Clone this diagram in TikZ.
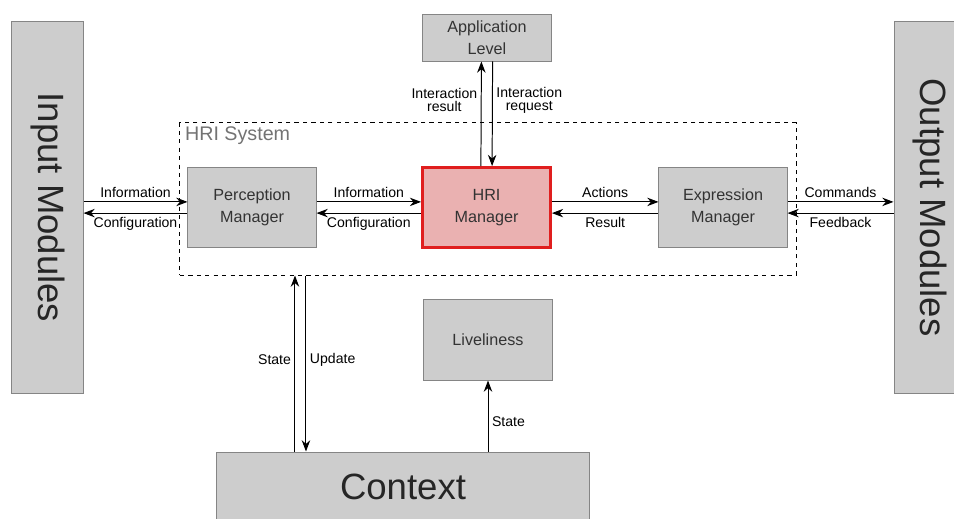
\documentclass[tikz,border=0pt]{standalone}
\usepackage{fontspec}
\setmainfont{Liberation Sans}
\usetikzlibrary{positioning,arrows.meta}
\definecolor{boxgray}{HTML}{CDCDCD}
\definecolor{edgegray}{HTML}{858585}
\definecolor{textgray}{HTML}{333333}
\definecolor{hripink}{HTML}{EAB1B1}
\definecolor{hrired}{HTML}{E01E1E}

\begin{document}
\begin{tikzpicture}[x=0.025cm, y=-0.025cm, >={Stealth[length=8pt,width=6pt]}, line width=0.7pt,
  box/.style={draw=edgegray, fill=boxgray, text=textgray, align=center,
    font=\fontsize{11.5}{16}\selectfont, inner sep=0pt},
  bigbox/.style={box, text=black!85, font=\fontsize{26}{30}\selectfont},
  lbl/.style={font=\fontsize{10}{9.5}\selectfont, align=center, inner sep=2.5pt}]
  \clip (0,0) rectangle (954,519);
  % outer modules
  \node[bigbox, minimum width=1.775cm, minimum height=9.275cm] (inp) at (47.5,207.5)
    {\rotatebox{-90}{Input Modules}};
  \node[bigbox, minimum width=1.775cm, minimum height=9.275cm] (outp) at (929.5,207.5)
    {\rotatebox{-90}{Output Modules}};
  % hri system
  \node[draw, dashed, minimum width=15.4cm, minimum height=3.8cm] (sys) at (488,199) {};
  \node[anchor=north west, inner sep=0pt, text=black!55, font=\fontsize{14}{16}\selectfont]
    at ([shift={(0.13cm,-0.1cm)}]sys.north west) {HRI System};
  \node[box, minimum width=3.2cm, minimum height=1.975cm] (perc) at (252,207.5)
    {Perception\\Manager};
  \node[box, draw=hrired, fill=hripink, line width=2pt, minimum width=3.2cm, minimum height=2cm]
    (hri) at (486.5,207.5) {HRI\\Manager};
  \node[box, minimum width=3.2cm, minimum height=1.975cm] (expr) at (723,207.5)
    {Expression\\Manager};
  % other blocks
  \node[box, minimum width=3.2cm, minimum height=1.175cm] (app) at (487,37.5)
    {Application\\Level};
  \node[box, minimum width=3.2cm, minimum height=2cm] (live) at (488,340) {Liveliness};
  \node[bigbox, minimum width=9.3cm, minimum height=1.75cm] (ctx) at (403,487) {Context};

  % horizontal flows
  \draw[->] ([yshift=0.14cm]inp.east) -- node[lbl, above] {Information} ([yshift=0.14cm]perc.west);
  \draw[<-] ([yshift=-0.14cm]inp.east) -- node[lbl, below] {Configuration} ([yshift=-0.14cm]perc.west);
  \draw[->] ([yshift=0.14cm]perc.east) -- node[lbl, above] {Information} ([yshift=0.14cm]hri.west);
  \draw[<-] ([yshift=-0.14cm]perc.east) -- node[lbl, below] {Configuration} ([yshift=-0.14cm]hri.west);
  \draw[->] ([yshift=0.14cm]hri.east) -- node[lbl, above] {Actions} ([yshift=0.14cm]expr.west);
  \draw[<-] ([yshift=-0.14cm]hri.east) -- node[lbl, below] {Result} ([yshift=-0.14cm]expr.west);
  \draw[->] ([yshift=0.14cm]expr.east) -- node[lbl, above] {Commands} ([yshift=0.14cm]outp.west);
  \draw[<-] ([yshift=-0.14cm]expr.east) -- node[lbl, below] {Feedback} ([yshift=-0.14cm]outp.west);

  % vertical flows
  \draw[->] ([xshift=-0.14cm]hri.north) -- node[lbl, left, pos=0.63] {Interaction\\result}
    ([xshift=-0.14cm]app.south);
  \draw[<-] ([xshift=0.14cm]hri.north) -- node[lbl, right, pos=0.63] {Interaction\\request}
    ([xshift=0.14cm]app.south);
  \draw[->] ([xshift=-2.7cm]ctx.north) -- node[lbl, left, pos=0.52] {State}
    ([xshift=-2.7cm]ctx.north |- sys.south);
  \draw[<-] ([xshift=-2.425cm]ctx.north) -- node[lbl, right, pos=0.52] {Update}
    ([xshift=-2.425cm]ctx.north |- sys.south);
  \draw[->] (ctx.north -| live.south) -- node[lbl, right, pos=0.42] {State} (live.south);
\end{tikzpicture}
\end{document}
